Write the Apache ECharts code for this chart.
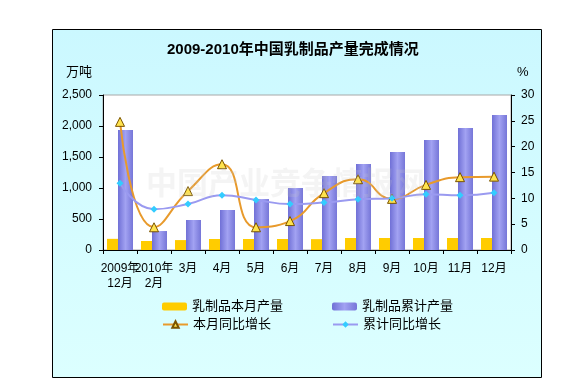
<!DOCTYPE html>
<html><head><meta charset="utf-8">
<script src="https://cdn.jsdelivr.net/npm/echarts@6/dist/echarts.min.js"></script>
<style>html,body{margin:0;padding:0;background:#fff}#c{width:573px;height:380px}</style>
</head><body><div id="c"></div>
<script>
const categories = ['2009年\n12月','2010年\n2月','3月','4月','5月','6月','7月','8月','9月','10月','11月','12月'];
const monthlyOutput = [180,145,160,177,177,177,175,194,194,194,194,194];
const cumulativeOutput = [1935,306,484,645,822,1000,1193,1387,1580,1774,1968,2177];
const monthlyGrowth = [24.8,4.4,11.4,16.6,4.4,5.6,11.0,13.7,9.9,12.6,14.1,14.2];
const cumulativeGrowth = [12.9,7.9,8.9,10.6,9.7,8.9,9.2,9.8,10.0,10.8,10.6,11.1];
const leftTicks = [0,500,1000,1500,2000,2500];
const rightTicks = [0,5,10,15,20,25,30];

const FONT = "'Liberation Sans','Noto Sans CJK SC',sans-serif";
const chart = echarts.init(document.getElementById('c'), null, {renderer:'canvas'});
const lg = (name, left, top) => ({
  data:[name], left:left, top:top, padding:0, itemWidth:25, itemHeight:8, itemGap:0,
  textStyle:{fontSize:13, color:'#000', fontFamily:FONT}
});
chart.setOption({
  animation:false,
  textStyle:{fontFamily:FONT},
  graphic:[
    {type:'rect', z:-1, silent:true, shape:{x:52.5,y:29.5,width:489,height:348},
     style:{fill:new echarts.graphic.LinearGradient(0,0,0,1,[{offset:0,color:'#CBF8FF'},{offset:1,color:'#DCFFFF'}]), stroke:'#000', lineWidth:1}},
    {type:'text', left:66, top:66, style:{text:'万吨', font:"13px "+FONT, fill:'#000'}},
    {type:'text', left:517, top:66, style:{text:'%', font:"13px "+FONT, fill:'#000'}},
    {type:'text', z:100, silent:true, left:146, top:167, style:{text:'中国产业竞争情报网', font:"bold 31px 'Noto Sans CJK SC',serif", fill:'rgba(200,200,200,0.2)'}}
  ],
  title:{text:'2009-2010年中国乳制品产量完成情况', left:167, top:42, padding:0,
    textStyle:{fontSize:15, fontWeight:'bold', color:'#000', fontFamily:FONT}},
  legend:[
    lg('乳制品本月产量',162,300), lg('乳制品累计产量',332,300),
    lg('本月同比增长',162,318), lg('累计同比增长',332,318)
  ],
  grid:{left:103, right:62, top:95, bottom:130, show:true, backgroundColor:'#fff', borderColor:'#A8A8A8', borderWidth:1},
  xAxis:{type:'category', data:categories,
    axisLine:{lineStyle:{color:'#000',width:1}},
    axisTick:{show:true, length:4, lineStyle:{color:'#000'}},
    axisLabel:{interval:0, margin:11, fontSize:12, color:'#000', lineHeight:15, fontFamily:FONT}},
  yAxis:[
    {type:'value', min:0, max:2500, interval:500, position:'left',
     axisLine:{show:true, lineStyle:{color:'#000'}}, axisTick:{show:true, length:4, lineStyle:{color:'#000'}},
     splitLine:{show:false},
     axisLabel:{margin:11, fontSize:12, color:'#000', formatter:v=>v.toLocaleString('en-US')}},
    {type:'value', min:0, max:30, interval:5, position:'right',
     axisLine:{show:true, lineStyle:{color:'#000'}}, axisTick:{show:true, length:4, lineStyle:{color:'#000'}},
     splitLine:{show:false},
     axisLabel:{margin:10, fontSize:12, color:'#000'}}
  ],
  series:[
    {name:'乳制品本月产量', type:'bar', yAxisIndex:0, data:monthlyOutput, barWidth:11, barGap:'0%',
     itemStyle:{color:'#FFCC00'}},
    {name:'乳制品累计产量', type:'bar', yAxisIndex:0, data:cumulativeOutput, barWidth:15, barGap:'0%',
     itemStyle:{color:new echarts.graphic.LinearGradient(0,0,1,0,[{offset:0,color:'#7070D6'},{offset:0.5,color:'#A2A2F2'},{offset:1,color:'#7676D8'}])}},
    {name:'本月同比增长', type:'line', yAxisIndex:1, data:monthlyGrowth, smooth:true,
     symbol:'triangle', symbolSize:9,
     lineStyle:{color:'#E89A2C', width:2},
     itemStyle:{color:'#FFE34D', borderColor:'#7A5400', borderWidth:1}},
    {name:'累计同比增长', type:'line', yAxisIndex:1, data:cumulativeGrowth, smooth:true,
     symbol:'diamond', symbolSize:7,
     lineStyle:{color:'#9A9AF0', width:2},
     itemStyle:{color:'#33CCFF', borderWidth:0}}
  ]
});
</script></body></html>
